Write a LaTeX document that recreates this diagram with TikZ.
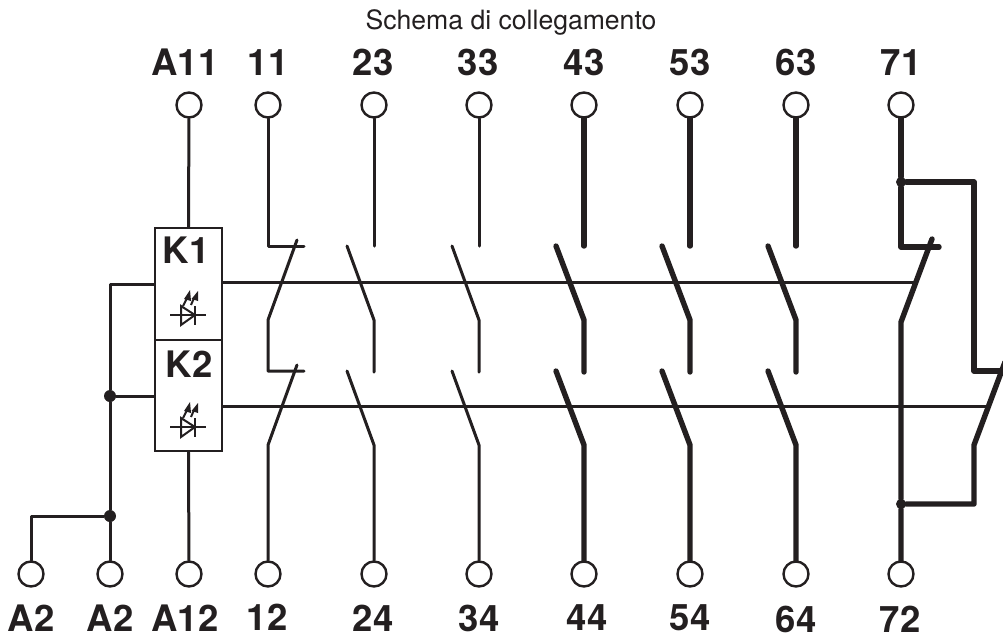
\documentclass[tikz,border=0pt]{standalone}
\usepackage{fontspec}
\setmainfont{TeX Gyre Heros}
\usetikzlibrary{calc}
\definecolor{ink}{HTML}{231F20}
\tikzset{
  thinw/.style={line width=3pt,color=ink},
  wire/.style={line width=3pt,color=ink,line cap=round,line join=round},
  heavy/.style={line width=5.4pt,color=ink,line cap=round,line join=round},
  term/.style={circle,draw=ink,line width=2.4pt,minimum size=25pt,inner sep=0pt,fill=white},
  lab/.style={font=\bfseries\fontsize{36.5}{36.5}\selectfont,text=ink,inner sep=0pt,anchor=base},
  coil/.style={rectangle,draw=ink,line width=2.6pt,minimum width=67pt,minimum height=112pt,inner sep=0pt},
  dot/.style={circle,fill=ink,inner sep=0pt,minimum size=12pt},
  hdot/.style={circle,fill=ink,inner sep=0pt,minimum size=10pt},
  led/.pic={
    \draw[ink,line width=2pt] (-18,0)--(18,0);
    \draw[ink,line width=2pt,line join=miter] (-7,-9)--(-7,10)--(7,0)--cycle;
    \draw[ink,line width=2pt] (7,-9)--(7,10);
    \draw[ink,line width=2pt] (-5,-9)--(-1,-17);
    \draw[ink,line width=2pt] (3,-10)--(6,-17);
    \fill[ink] (-4,-16)--(2,-25)--(3,-14)--cycle;
    \fill[ink] (3.5,-16)--(10,-24)--(10,-14)--cycle;
  }
}
\begin{document}
\begin{tikzpicture}[x=1pt,y=-1pt]
\useasboundingbox (0,0) rectangle (1003,633);
\node[font=\fontsize{26.6}{26.6}\selectfont,text=ink,inner sep=0pt,anchor=base] (title) at (511,29) {Schema di collegamento};
% top terminals
\foreach \n/\x/\t/\lx in {ta/189/A11/185,t11/268/11/268,t23/374/23/373,t33/479/33/478,t43/584/43/584,t53/690/53/690,t63/796/63/796,t71/901/71/901}{
  \node[term] (\n) at (\x,105) {};
  \node[lab] (l\n) at (\lx,75) {\t};
}
% bottom terminals
\foreach \n/\x in {bl/31,bm/110,ba/189,b12/268,b24/374,b34/479,b44/584,b54/690,b64/796,b72/901}{
  \node[term] (\n) at (\x,574) {};
}
\node[lab] (lbl) at (31,631) {A2};
\node[lab] (lbm) at (110,631) {A2};
\node[lab] (lba) at (185,631) {A12};
\node[lab] (lb12) at (267,630) {12};
\node[lab] (lb24) at (373,631) {24};
\node[lab] (lb34) at (479,631.5) {34};
\node[lab] (lb44) at (587,630.5) {44};
\node[lab] (lb54) at (690,630.5) {54};
\node[lab] (lb64) at (796,632) {64};
\node[lab] (lb72) at (900,632) {72};
% coils
\node[coil] (k1) at (188.5,284) {};
\node[coil,minimum height=111pt] (k2) at (188.5,395.5) {};
\node[lab] (k1t) at (186,263) {K1};
\node[lab] (k2t) at (189,377) {K2};
\pic at (188,315) {led};
\pic at (188,427) {led};
% coil wiring
\draw[wire] (ta)--(k1.north);
\draw[wire] (k2.south)--(ba);
\coordinate (cn1) at (110,284);
\node[dot] (d1) at (110,396) {};
\node[dot] (d2) at (110,516) {};
\coordinate (cn2) at (31,516);
\draw[wire] (k1.west |- cn1)--(cn1)--(d1)--(d2)--(bm);
\draw[wire] (d1)--(k2.west |- d1);
\draw[wire] (bl)--(cn2)--(d2);
% mechanical links
\coordinate (m1) at (914,282);
\coordinate (m2) at (986,406.5);
\draw[thinw] (222,282)--(m1);
\draw[thinw] (222,406.5)--(m2);
% normally closed 11-12
\coordinate (a1) at (268,246); \coordinate (a2) at (304,246);
\coordinate (a3) at (297,240); \coordinate (a4) at (268,320);
\coordinate (a5) at (268,371); \coordinate (a6) at (304,371);
\coordinate (a7) at (297,365); \coordinate (a8) at (268,445);
\draw[wire] (t11)--(a1)--(a2);
\draw[wire] (a3)--(a4)--(a5)--(a6);
\draw[wire] (a7)--(a8)--(b12);
% normally open thin
\foreach \x/\t/\b in {374/t23/b24,479/t33/b34}{
  \draw[wire] (\t)--(\x,246);
  \draw[wire] (\x-27,246)--(\x,320)--(\x,372);
  \draw[wire] (\x-27,371)--(\x,445)--(\b);
}
% normally open heavy
\foreach \x/\t/\b in {584/t43/b44,690/t53/b54,796/t63/b64}{
  \draw[heavy] (\t)--(\x,246);
  \draw[heavy] (\x-28,246)--(\x,320)--(\x,372);
  \draw[heavy] (\x-28,371)--(\x,445)--(\b);
}
% contact 71-72 pair
\coordinate (r1) at (901,247); \coordinate (r2) at (939,247);
\coordinate (r3) at (932,239); \coordinate (r4) at (901,322);
\node[hdot] (d3) at (901,182) {};
\node[hdot] (d4) at (901,504) {};
\coordinate (s1) at (974,182); \coordinate (s2) at (974,371);
\coordinate (s3) at (1003,371); \coordinate (s4) at (1005,362);
\coordinate (s5) at (974,445); \coordinate (s6) at (974,504);
\draw[heavy] (t71)--(d3)--(r1)--(r2);
\draw[heavy] (r3)--(r4)--(d4)--(b72);
\draw[heavy] (d3)--(s1)--(s2)--(s3);
\draw[heavy] (s4)--(s5)--(s6)--(d4);
\end{tikzpicture}
\end{document}
